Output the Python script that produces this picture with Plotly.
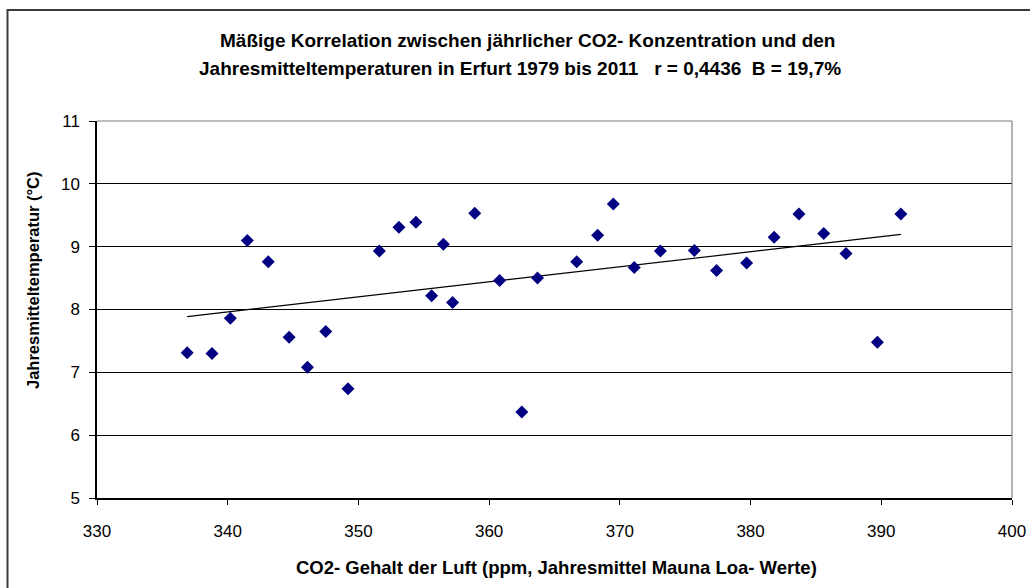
import numpy as np
import plotly.graph_objects as go

# CO2 annual mean (ppm, Mauna Loa) and annual mean temperature Erfurt 1979-2011
co2 = [336.9, 338.8, 340.2, 341.5, 343.1, 344.7, 346.1, 347.5, 349.2, 351.6,
       353.1, 354.4, 355.6, 356.5, 357.2, 358.9, 360.8, 362.5, 363.7, 366.7,
       368.3, 369.5, 371.1, 373.1, 375.7, 377.4, 379.7, 381.8, 383.7, 385.6,
       387.3, 389.7, 391.5]
temp = [7.31, 7.30, 7.86, 9.10, 8.76, 7.56, 7.08, 7.65, 6.74, 8.93,
        9.31, 9.39, 8.22, 9.04, 8.11, 9.53, 8.46, 6.37, 8.50, 8.76,
        9.18, 9.68, 8.67, 8.93, 8.94, 8.62, 8.74, 9.15, 9.52, 9.21,
        8.89, 7.48, 9.52]

x_ticks = [330, 340, 350, 360, 370, 380, 390, 400]
y_ticks = [5, 6, 7, 8, 9, 10, 11]

title_l1 = "Mäßige Korrelation zwischen jährlicher CO2- Konzentration und den"
title_l2 = "Jahresmitteltemperaturen in Erfurt 1979 bis 2011   r = 0,4436  B = 19,7%"
x_title = "CO2- Gehalt der Luft (ppm, Jahresmittel Mauna Loa- Werte)"
y_title = "Jahresmitteltemperatur (°C)"

W, H = 1030, 588
ML, MR, MT, MB = 97, 18, 121, 90
PW, PH = W - ML - MR, H - MT - MB

def px(x):
    return (x - ML) / PW

def py(y):
    return (H - MB - y) / PH

slope, icpt = np.polyfit(co2, temp, 1)
tx = [min(co2), max(co2)]
ty = [slope * v + icpt for v in tx]

FONT = "Liberation Sans, Arial, sans-serif"

fig = go.Figure()
fig.add_trace(go.Scatter(x=tx, y=ty, mode="lines",
                         line=dict(color="black", width=1.2),
                         hoverinfo="skip", showlegend=False))
fig.add_trace(go.Scatter(x=co2, y=temp, mode="markers",
                         marker=dict(symbol="diamond", size=10, color="#000080",
                                     line=dict(width=0)),
                         showlegend=False))

fig.update_layout(
    width=W, height=H,
    margin=dict(l=ML, r=MR, t=MT, b=MB),
    paper_bgcolor="white", plot_bgcolor="white",
    font=dict(family=FONT, color="black", size=17),
    showlegend=False,
    xaxis=dict(range=[330, 400], tickvals=x_ticks, ticktext=[str(v) for v in x_ticks],
               showgrid=False, zeroline=False, showline=True, linecolor="black",
               linewidth=1.5, ticks="outside", ticklen=5, tickcolor="black",
               tickfont=dict(size=17), ticklabelstandoff=12, automargin=False),
    yaxis=dict(range=[5, 11], tickvals=y_ticks, ticktext=[str(v) for v in y_ticks],
               showgrid=True, gridcolor="black", gridwidth=1.2, zeroline=False,
               showline=True, linecolor="black", linewidth=1.5,
               ticks="outside", ticklen=6, tickcolor="black",
               tickfont=dict(size=17), ticklabelstandoff=6, automargin=False),
    shapes=[
        dict(type="rect", xref="paper", yref="paper",
             x0=px(7.5), x1=px(1040), y0=py(10), y1=py(600),
             line=dict(color="#3a3a3a", width=2), layer="below"),
        dict(type="line", xref="paper", yref="paper",
             x0=0, x1=1, y0=1, y1=1, line=dict(color="#808080", width=1.2)),
        dict(type="line", xref="paper", yref="paper",
             x0=1, x1=1, y0=0, y1=1, line=dict(color="#808080", width=1.2)),
    ],
    annotations=[
        dict(text=f"<b>{title_l1}</b>", xref="paper", yref="paper",
             x=px(527), y=py(40), xanchor="center", yanchor="middle",
             showarrow=False, font=dict(size=19)),
        dict(text=f"<b>{title_l2}</b>", xref="paper", yref="paper",
             x=px(520), y=py(68), xanchor="center", yanchor="middle",
             showarrow=False, font=dict(size=19)),
        dict(text=f"<b>{x_title}</b>", xref="paper", yref="paper",
             x=px(556), y=py(567), xanchor="center", yanchor="middle",
             showarrow=False, font=dict(size=18.5)),
        dict(text=f"<b>{y_title}</b>", xref="paper", yref="paper",
             x=px(33), y=py(280), xanchor="center", yanchor="middle",
             showarrow=False, textangle=-90, font=dict(size=16.5)),
    ],
)

fig.write_html(
    "out.html",
    config={"displayModeBar": False},
    post_script=("document.body.style.margin='0px';"
                 "document.body.style.overflow='hidden';"
                 "document.documentElement.style.overflow='hidden';"),
)
